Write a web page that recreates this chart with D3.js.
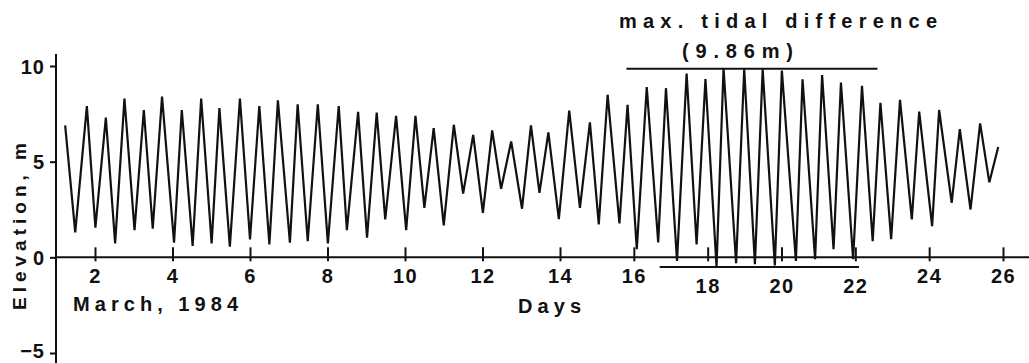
<!DOCTYPE html>
<html>
<head>
<meta charset="utf-8">
<script src="https://cdn.jsdelivr.net/npm/d3@7"></script>
<style>
  html, body { margin: 0; padding: 0; background: #fff; }
  svg { display: block; }
  text { font-family: "Liberation Sans", Arial, sans-serif; font-weight: bold; fill: #111; }
</style>
</head>
<body>
<svg id="chart" width="1029" height="363"></svg>
<script>
// ---- data (day of March 1984, elevation in m) ----
const days = [1.23,1.49,1.79,2.01,2.28,2.52,2.76,3.02,3.26,3.49,3.73,4.04,4.24,4.52,4.74,5.01,5.21,5.48,5.74,6.00,
  6.24,6.50,6.72,7.03,7.23,7.49,7.75,8.01,8.29,8.50,8.79,9.02,9.27,9.49,9.77,10.03,10.27,10.50,10.74,11.00,
  11.26,11.50,11.76,12.01,12.25,12.48,12.74,13.02,13.25,13.47,13.70,13.97,14.25,14.54,14.81,15.05,15.29,15.61,15.83,16.08,
  16.35,16.66,16.87,17.17,17.43,17.70,17.94,18.24,18.43,18.77,18.99,19.28,19.49,19.82,20.01,20.39,20.57,20.91,21.10,21.41,
  21.61,21.94,22.18,22.47,22.68,22.97,23.21,23.53,23.73,24.08,24.27,24.61,24.83,25.12,25.38,25.63,25.87];
const elevation = [6.9,1.3,7.9,1.55,7.3,0.73,8.3,1.42,7.7,1.5,8.4,0.77,7.7,0.6,8.3,0.73,7.8,0.56,8.3,0.94,
  7.9,0.68,8.2,0.77,8.0,0.85,8.0,0.73,7.9,1.42,7.6,1.03,7.57,1.98,7.4,1.42,7.4,2.59,6.75,1.67,
  6.93,3.33,6.4,2.33,6.63,3.58,6.06,2.54,6.9,3.37,6.53,2.0,7.67,2.59,7.05,1.72,8.5,1.77,7.97,0.42,
  8.9,0.78,8.84,-0.19,9.6,0.68,9.32,-0.48,9.88,-0.31,9.83,-0.36,9.83,-0.42,9.76,-0.19,9.3,-0.1,9.53,0.42,
  9.13,-0.1,8.96,0.85,8.08,0.95,8.23,1.98,7.62,1.63,7.7,2.85,6.7,2.5,7.0,3.92,5.77];
const xTicks = [2,4,6,8,10,12,14,16,18,20,22,24,26];
const loweredTicks = [18,20,22];
const yTicks = [-5,0,5,10];
const maxDiffDays = [15.8, 22.6];     // extent of max-tide reference line
const minDiffDays = [16.7, 22.1];     // extent of min-tide reference line
const maxLevel = 9.86;                // top line level
const minLevel = -0.5;                // bottom line level
const titleText = "max. tidal difference";
const subtitleText = "(9.86m)";

const svg = d3.select("#chart");
// hand-drawn axis: slightly compressed after day 14
const x = d3.scaleLinear().domain([2, 14, 26]).range([95, 560, 1003]);
const y = d3.scaleLinear().domain([-5, 10]).range([353, 66]);

const axisLeftX = 56;
const FONT = "Liberation Sans, Arial, sans-serif";
// y axis line
svg.append("line").attr("x1", axisLeftX).attr("x2", axisLeftX).attr("y1", 54).attr("y2", 363)
  .attr("stroke", "#111").attr("stroke-width", 2);
// x axis line
svg.append("line").attr("x1", axisLeftX).attr("x2", 1029).attr("y1", y(0)).attr("y2", y(0))
  .attr("stroke", "#111").attr("stroke-width", 2);

// y axis ticks/labels
const gy = svg.append("g").attr("transform", `translate(${axisLeftX},0)`)
  .call(d3.axisLeft(y).tickValues(yTicks).tickSize(6).tickPadding(5).tickFormat(d3.format("d")));
gy.select(".domain").remove();
gy.selectAll("line").attr("stroke", "#111").attr("stroke-width", 2);
gy.selectAll("text").attr("font-size", 20).attr("font-family", FONT)
  .attr("font-weight", "bold").attr("letter-spacing", 1).attr("fill", "#111")
  .attr("dy", d => d === -5 ? "0.2em" : "0.35em");

// x axis ticks/labels
const gx = svg.append("g").attr("transform", `translate(0,${y(0)})`)
  .call(d3.axisBottom(x).tickValues(xTicks).tickSize(4).tickPadding(5));
gx.select(".domain").remove();
gx.selectAll("line").attr("y1", -10).attr("y2", 4).attr("stroke", "#111").attr("stroke-width", 2);
gx.selectAll("text").attr("font-size", 20).attr("font-family", FONT)
  .attr("font-weight", "bold").attr("letter-spacing", 1.5).attr("fill", "#111")
  .attr("dy", d => loweredTicks.includes(d) ? "1.35em" : "0.85em");

// tide curve
const line = d3.line().x((d, i) => x(days[i])).y(d => y(d));
svg.append("path").datum(elevation).attr("d", line)
  .attr("fill", "none").attr("stroke", "#111").attr("stroke-width", 2.2).attr("stroke-linejoin", "miter");

// reference lines for max tidal difference
svg.append("line").attr("x1", x(maxDiffDays[0])).attr("x2", x(maxDiffDays[1]))
  .attr("y1", y(maxLevel)).attr("y2", y(maxLevel)).attr("stroke", "#111").attr("stroke-width", 2);
svg.append("line").attr("x1", x(minDiffDays[0])).attr("x2", x(minDiffDays[1]))
  .attr("y1", y(minLevel)).attr("y2", y(minLevel)).attr("stroke", "#111").attr("stroke-width", 2);

// texts
svg.append("text").attr("x", 619).attr("y", 28).attr("font-size", 20)
  .attr("textLength", 318).attr("lengthAdjust", "spacing").text(titleText);
svg.append("text").attr("x", 682).attr("y", 58).attr("font-size", 20)
  .attr("textLength", 111).attr("lengthAdjust", "spacing").text(subtitleText);
svg.append("text").attr("x", 73).attr("y", 311).attr("font-size", 20)
  .attr("textLength", 165).attr("lengthAdjust", "spacing").text("March, 1984");
svg.append("text").attr("x", 518).attr("y", 313).attr("font-size", 20)
  .attr("textLength", 63).attr("lengthAdjust", "spacing").text("Days");
svg.append("text").attr("transform", "translate(26,310) rotate(-90)").attr("font-size", 19)
  .attr("textLength", 167).attr("lengthAdjust", "spacing").text("Elevation, m");
</script>
</body>
</html>
